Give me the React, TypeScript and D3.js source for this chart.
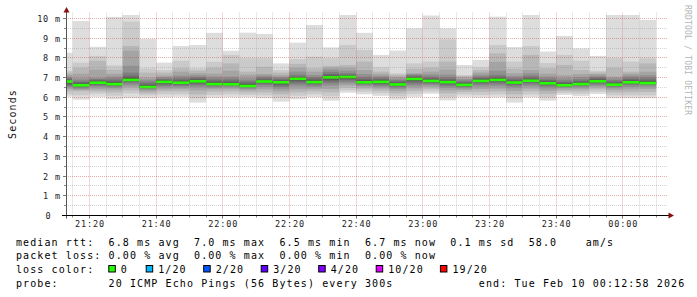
import React from 'react';
import * as d3 from 'd3';

// ---------- data ----------
const startTime = new Date(2026, 1, 9, 21, 12, 58);
const endTime = new Date(2026, 1, 10, 0, 12, 58);
const firstBarEnd = new Date(2026, 1, 9, 21, 15, 0);
const stepSeconds = 300;
const yMaxMs = 10.15;

// 20 sorted ping RTTs (ms) for every 5-minute step
const pings: number[][] = [
  [6.03, 6.15, 6.3, 6.42, 6.5, 6.56, 6.62, 6.7, 6.76, 6.79, 6.81, 6.84, 6.88, 6.93, 6.98, 7.05, 7.15, 7.25, 7.35, 8.26],
  [5.88, 6.1, 6.3, 6.37, 6.42, 6.48, 6.53, 6.57, 6.59, 6.6, 6.62, 6.65, 6.7, 6.77, 6.85, 6.95, 7.2, 7.5, 7.76, 9.87],
  [6.02, 6.18, 6.3, 6.4, 6.5, 6.58, 6.64, 6.69, 6.72, 6.73, 6.75, 6.78, 6.82, 6.88, 6.93, 6.98, 7.4, 7.85, 8.1, 8.56],
  [5.9, 6.08, 6.25, 6.38, 6.47, 6.54, 6.6, 6.63, 6.65, 6.66, 6.68, 6.72, 6.78, 6.85, 6.95, 7.05, 7.19, 7.4, 7.62, 10.08],
  [5.95, 6.2, 6.35, 6.5, 6.6, 6.7, 6.78, 6.83, 6.86, 6.87, 6.9, 6.95, 7.0, 7.1, 7.25, 7.6, 8.37, 8.6, 9.84, 10.18],
  [5.95, 6.1, 6.2, 6.3, 6.38, 6.43, 6.47, 6.49, 6.51, 6.52, 6.53, 6.56, 6.62, 6.7, 6.8, 6.9, 7.0, 7.25, 7.47, 8.96],
  [6.0, 6.15, 6.3, 6.4, 6.5, 6.58, 6.65, 6.71, 6.75, 6.77, 6.79, 6.82, 6.86, 6.9, 6.95, 7.02, 7.1, 7.25, 7.38, 7.76],
  [6.02, 6.15, 6.3, 6.42, 6.5, 6.58, 6.64, 6.69, 6.72, 6.73, 6.75, 6.78, 6.83, 6.9, 6.98, 7.1, 7.3, 7.47, 7.86, 8.6],
  [5.73, 5.95, 6.15, 6.35, 6.5, 6.6, 6.68, 6.74, 6.78, 6.8, 6.82, 6.85, 6.9, 6.96, 7.03, 7.12, 7.22, 7.35, 7.47, 8.65],
  [5.98, 6.12, 6.28, 6.4, 6.48, 6.55, 6.6, 6.63, 6.65, 6.66, 6.68, 6.72, 6.78, 6.85, 6.95, 7.05, 7.2, 7.5, 7.8, 9.27],
  [6.0, 6.15, 6.3, 6.42, 6.5, 6.56, 6.61, 6.64, 6.65, 6.66, 6.67, 6.7, 6.76, 6.85, 6.95, 7.05, 7.35, 7.72, 8.15, 8.36],
  [6.0, 6.12, 6.25, 6.35, 6.42, 6.48, 6.52, 6.55, 6.56, 6.57, 6.58, 6.62, 6.68, 6.76, 6.85, 6.96, 7.15, 7.3, 7.98, 9.28],
  [5.95, 6.1, 6.25, 6.4, 6.52, 6.62, 6.7, 6.75, 6.78, 6.79, 6.81, 6.84, 6.88, 6.94, 7.02, 7.1, 7.18, 7.55, 7.98, 9.21],
  [5.78, 5.98, 6.15, 6.3, 6.42, 6.52, 6.6, 6.67, 6.72, 6.75, 6.77, 6.8, 6.84, 6.9, 6.96, 7.04, 7.12, 7.25, 7.38, 7.72],
  [5.9, 6.08, 6.25, 6.4, 6.55, 6.66, 6.76, 6.84, 6.9, 6.93, 6.95, 6.98, 7.02, 7.05, 7.15, 7.3, 7.5, 7.7, 7.94, 8.77],
  [6.0, 6.15, 6.3, 6.42, 6.52, 6.6, 6.67, 6.72, 6.75, 6.76, 6.78, 6.82, 6.88, 6.95, 7.03, 7.13, 7.3, 7.47, 8.06, 9.67],
  [5.83, 6.05, 6.25, 6.42, 6.58, 6.7, 6.8, 6.88, 6.95, 7.0, 7.02, 7.05, 7.1, 7.18, 7.28, 7.4, 7.5, 7.59, 7.98, 8.53],
  [6.23, 6.35, 6.48, 6.6, 6.7, 6.8, 6.88, 6.94, 6.99, 7.02, 7.04, 7.07, 7.1, 7.15, 7.22, 7.35, 7.5, 7.64, 8.65, 10.18],
  [6.15, 6.28, 6.4, 6.5, 6.58, 6.64, 6.69, 6.72, 6.74, 6.75, 6.77, 6.8, 6.86, 6.94, 7.04, 7.18, 7.38, 7.81, 8.4, 9.27],
  [6.07, 6.2, 6.33, 6.44, 6.53, 6.6, 6.66, 6.71, 6.75, 6.77, 6.79, 6.82, 6.87, 6.93, 7.0, 7.08, 7.18, 7.3, 7.52, 8.15],
  [5.88, 6.05, 6.2, 6.33, 6.43, 6.5, 6.56, 6.6, 6.63, 6.64, 6.66, 6.69, 6.74, 6.8, 6.87, 6.95, 7.05, 7.14, 7.22, 8.37],
  [6.02, 6.18, 6.32, 6.45, 6.56, 6.66, 6.75, 6.83, 6.88, 6.92, 6.94, 6.97, 7.01, 7.06, 7.12, 7.18, 7.22, 7.45, 7.72, 9.5],
  [6.18, 6.3, 6.42, 6.52, 6.6, 6.67, 6.73, 6.78, 6.81, 6.82, 6.84, 6.87, 6.92, 6.98, 7.06, 7.16, 7.3, 7.5, 7.81, 10.15],
  [5.84, 6.02, 6.2, 6.35, 6.47, 6.57, 6.65, 6.71, 6.74, 6.76, 6.78, 6.81, 6.86, 6.93, 7.02, 7.15, 7.4, 7.81, 8.94, 9.5],
  [6.02, 6.15, 6.27, 6.37, 6.45, 6.51, 6.56, 6.6, 6.62, 6.63, 6.64, 6.67, 6.71, 6.77, 6.84, 6.92, 7.0, 7.08, 7.13, 7.64],
  [5.98, 6.12, 6.28, 6.42, 6.54, 6.64, 6.72, 6.77, 6.8, 6.82, 6.84, 6.87, 6.92, 6.98, 7.05, 7.14, 7.25, 7.38, 7.52, 7.9],
  [6.0, 6.14, 6.3, 6.44, 6.56, 6.66, 6.75, 6.81, 6.85, 6.87, 6.89, 6.92, 6.97, 7.04, 7.14, 7.35, 7.8, 8.23, 8.65, 10.09],
  [5.73, 5.95, 6.15, 6.32, 6.46, 6.56, 6.64, 6.7, 6.73, 6.74, 6.76, 6.79, 6.84, 6.9, 6.98, 7.08, 7.22, 7.45, 7.81, 8.55],
  [6.0, 6.14, 6.3, 6.44, 6.56, 6.66, 6.74, 6.8, 6.83, 6.84, 6.85, 6.88, 6.93, 7.0, 7.1, 7.22, 7.38, 8.15, 8.6, 10.18],
  [5.83, 6.0, 6.17, 6.32, 6.44, 6.54, 6.61, 6.66, 6.69, 6.7, 6.72, 6.75, 6.8, 6.87, 6.95, 7.05, 7.2, 7.47, 7.74, 8.32],
  [6.12, 6.22, 6.32, 6.4, 6.47, 6.52, 6.56, 6.59, 6.6, 6.61, 6.62, 6.65, 6.7, 6.77, 6.86, 6.97, 7.12, 7.64, 8.15, 9.11],
  [6.05, 6.17, 6.3, 6.41, 6.5, 6.56, 6.61, 6.64, 6.66, 6.67, 6.68, 6.71, 6.76, 6.83, 6.92, 7.03, 7.18, 7.38, 7.86, 8.48],
  [6.17, 6.28, 6.4, 6.5, 6.58, 6.65, 6.71, 6.76, 6.79, 6.8, 6.82, 6.85, 6.9, 6.96, 7.03, 7.1, 7.18, 7.26, 7.35, 8.1],
  [5.95, 6.1, 6.25, 6.37, 6.46, 6.53, 6.58, 6.61, 6.63, 6.64, 6.65, 6.68, 6.73, 6.8, 6.88, 6.97, 7.05, 7.5, 7.98, 10.18],
  [5.95, 6.1, 6.26, 6.4, 6.52, 6.61, 6.68, 6.72, 6.75, 6.76, 6.77, 6.8, 6.85, 6.92, 7.0, 7.1, 7.2, 7.3, 7.81, 10.18],
  [5.95, 6.1, 6.27, 6.42, 6.53, 6.61, 6.67, 6.7, 6.71, 6.72, 6.73, 6.76, 6.82, 6.9, 7.0, 7.12, 7.3, 7.72, 7.98, 9.92],
];

const medians: number[] = [
  6.8, 6.61, 6.74, 6.67, 6.88, 6.52, 6.78, 6.74, 6.81, 6.67, 6.66, 6.57, 6.8, 6.76, 6.94, 6.77, 7.01, 7.03,
  6.76, 6.78, 6.65, 6.93, 6.83, 6.77, 6.63, 6.83, 6.88, 6.75, 6.84, 6.71, 6.61, 6.67, 6.81, 6.64, 6.76, 6.72,
];

const yTickValues = [0, 1, 2, 3, 4, 5, 6, 7, 8, 9, 10];
const yTickLabels = ['0', '1 m', '2 m', '3 m', '4 m', '5 m', '6 m', '7 m', '8 m', '9 m', '10 m'];

const rttStats = ['6.8 ms avg', '7.0 ms max', '6.5 ms min', '6.7 ms now', '0.1 ms sd'];
const amPerSec = '58.0';
const lossStats = ['0.00 % avg', '0.00 % max', '0.00 % min', '0.00 % now'];
const lossLabels = ['0', '1/20', '2/20', '3/20', '4/20', '10/20', '19/20'];
const lossColors = ['#26ff00', '#00b8ff', '#0059ff', '#5e00ff', '#7e00ff', '#dd00ff', '#ff0000'];
const probeText = '20 ICMP Echo Pings (56 Bytes) every 300s';
const endText = 'end: Tue Feb 10 00:12:58 2026';
const medianColor = '#26ff00';

// ---------- layout ----------
const W = 697;
const H = 297;
const PL = 66;
const PR = 666;
const PT = 15.5;
const PB = 215.5;
const MONO = '"DejaVu Sans Mono", monospace';

export default function App() {
  const x = d3.scaleTime().domain([startTime, endTime]).range([PL, PR]);
  const y = d3.scaleLinear().domain([0, yMaxMs]).range([PB, PT]);
  const snap = (v: number) => Math.round(v - 0.5) + 0.5;

  const half = 10;
  const bars = pings.map((p, i) => {
    const t1 = d3.timeSecond.offset(firstBarEnd, i * stepSeconds);
    const t0 = d3.timeSecond.offset(t1, -stepSeconds);
    const x0 = Math.max(PL, x(t0));
    const x1 = Math.min(PR, x(t1));
    const layers = [] as { y0: number; y1: number; color: string }[];
    for (let k = 1; k <= half; k++) {
      const c = Math.floor((190 / half) * (half - k)) + 50;
      layers.push({ y0: y(p[20 - k]), y1: y(p[k - 1]), color: d3.rgb(c, c, c).formatHex() });
    }
    return { x0, x1, layers, med: y(medians[i]) };
  });

  const minorY = d3.range(0.5, yMaxMs, 0.5).filter((v) => v % 1 !== 0);
  const majorY = yTickValues.filter((v) => v > 0);
  const minorX = d3.timeMinute.every(5)!.range(startTime, endTime).filter((d) => d.getMinutes() % 20 !== 0);
  const majorX = d3.timeMinute.every(20)!.range(startTime, endTime);
  const fmt = d3.timeFormat('%H:%M');

  const minorStroke = 'rgba(140,140,140,0.38)';
  const majorStroke = 'rgba(200,60,60,0.42)';

  const adv = 7.12;
  const lx = 16;
  const rowY = [245.5, 259.3, 273.0, 286.8];
  const row1 =
    'median rtt:  ' + rttStats.slice(0, 4).map((s) => s + '  ').join('') + rttStats[4] + '  ' + amPerSec + '    am/s';
  const row2 = 'packet loss: ' + lossStats.join('  ');
  const row4 = 'probe:       ' + probeText;

  let bx = 108.3;
  const boxes = lossLabels.map((lab, i) => {
    const item = { bx, tx: bx + 12.5, lab, color: lossColors[i] };
    bx = bx + 30.7 + lab.length * 6.7;
    return item;
  });

  const legendStyle = { fontFamily: MONO, fontSize: 10, letterSpacing: 1.1, whiteSpace: 'pre' as const };
  const axisStyle = { fontFamily: MONO, fontSize: 8.5, letterSpacing: 0.85 };

  return (
    <svg width={W} height={H} style={{ position: 'absolute', left: 0, top: 0, background: '#fff' }}>
      <rect x={0} y={0} width={W} height={H} fill="#fff" />
      <defs>
        <clipPath id="plotclip">
          <rect x={PL} y={15} width={PR - PL} height={PB - 15} />
        </clipPath>
      </defs>
      <g clipPath="url(#plotclip)">
        {bars.map((b, i) => (
          <g key={i}>
            {b.layers.map((l, k) => (
              <rect key={k} x={b.x0} y={l.y0} width={b.x1 - b.x0} height={Math.max(0, l.y1 - l.y0)} fill={l.color} />
            ))}
            <rect x={b.x0} y={b.med - 1.3} width={b.x1 - b.x0} height={2.6} fill={medianColor} />
          </g>
        ))}
      </g>
      {/* grid */}
      <g>
        {minorY.map((v) => (
          <line key={'my' + v} x1={PL} x2={PR + 2} y1={snap(y(v))} y2={snap(y(v))} stroke={minorStroke} strokeDasharray="1,1" />
        ))}
        {minorX.map((d) => (
          <line key={'mx' + d.getTime()} x1={snap(x(d))} x2={snap(x(d))} y1={PB} y2={PT - 3} stroke={minorStroke} strokeDasharray="1,1" />
        ))}
        {majorY.map((v) => (
          <line key={'My' + v} x1={PL} x2={PR + 2} y1={snap(y(v))} y2={snap(y(v))} stroke={majorStroke} strokeDasharray="1,1" />
        ))}
        {majorX.map((d) => (
          <line key={'Mx' + d.getTime()} x1={snap(x(d))} x2={snap(x(d))} y1={PB} y2={PT - 3} stroke={majorStroke} strokeDasharray="1,1" />
        ))}
        {/* ticks */}
        {minorY.map((v) => (
          <line key={'ty' + v} x1={PL - 2} x2={PL} y1={snap(y(v))} y2={snap(y(v))} stroke="#888" />
        ))}
        {majorY.map((v) => (
          <line key={'tY' + v} x1={PL - 3} x2={PL} y1={snap(y(v))} y2={snap(y(v))} stroke="#777" />
        ))}
        {minorX.map((d) => (
          <line key={'tx' + d.getTime()} x1={snap(x(d))} x2={snap(x(d))} y1={PB} y2={PB + 2} stroke="#888" />
        ))}
        {majorX.map((d) => (
          <line key={'tX' + d.getTime()} x1={snap(x(d))} x2={snap(x(d))} y1={PB} y2={PB + 3} stroke="#777" />
        ))}
      </g>
      {/* axes */}
      <line x1={PL + 0.5} x2={PL + 0.5} y1={PB + 3} y2={10} stroke="#555" />
      <line x1={PL - 4} x2={670} y1={PB} y2={PB} stroke="#000" />
      <polygon points={`${PL + 0.5},7 ${PL - 2.5},12.5 ${PL + 3.5},12.5`} fill="#8a1010" />
      <polygon points={`674,${PB} 668.5,${PB - 3} 668.5,${PB + 3}`} fill="#8a1010" />
      {/* y labels */}
      {yTickValues.map((v, i) => (
        <text
          key={'yl' + v}
          x={v === 0 ? 51.5 : 61}
          y={snap(y(v)) + 3}
          textAnchor="end"
          fill="#222"
          style={axisStyle}
        >
          {yTickLabels[i]}
        </text>
      ))}
      {/* x labels */}
      {majorX.map((d) => (
        <text key={'xl' + d.getTime()} x={x(d) + 0.5} y={227} textAnchor="middle" fill="#222" style={axisStyle}>
          {fmt(d)}
        </text>
      ))}
      {/* axis title */}
      <text
        transform="translate(15.5,114) rotate(-90)"
        textAnchor="middle"
        fill="#111"
        style={{ fontFamily: MONO, fontSize: 10, letterSpacing: 1.1 }}
      >
        Seconds
      </text>
      {/* watermark */}
      <text
        transform="translate(685,5) rotate(90)"
        fill="#b4b4b4"
        style={{ fontFamily: MONO, fontSize: 8, letterSpacing: 0.2 }}
      >
        RRDTOOL / TOBI OETIKER
      </text>
      {/* legend */}
      <text x={lx} y={rowY[0]} fill="#000" style={legendStyle}>{row1}</text>
      <text x={lx} y={rowY[1]} fill="#000" style={legendStyle}>{row2}</text>
      <text x={lx} y={rowY[2]} fill="#000" style={legendStyle}>loss color:</text>
      {boxes.map((b) => (
        <g key={b.lab}>
          <rect x={b.bx + 0.5} y={265.5} width={6.5} height={6.5} fill={b.color} stroke="#000" />
          <text x={b.tx} y={rowY[2]} fill="#000" style={legendStyle}>{b.lab}</text>
        </g>
      ))}
      <text x={lx} y={rowY[3]} fill="#000" style={legendStyle}>{row4}</text>
      <text x={lx + 65 * adv} y={rowY[3]} fill="#000" style={legendStyle}>{endText}</text>
    </svg>
  );
}
